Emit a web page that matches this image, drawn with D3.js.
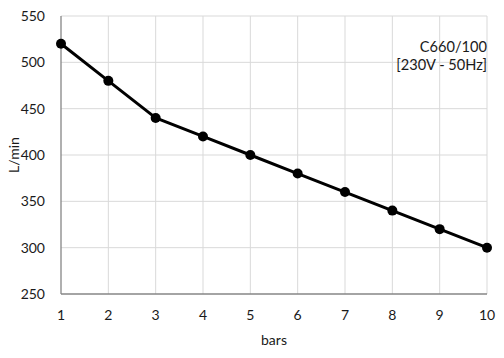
<!DOCTYPE html>
<html>
<head>
<meta charset="utf-8">
<script src="https://cdn.jsdelivr.net/npm/d3@7"></script>
<style>
  body { margin: 0; background: #fff; }
  text { font-family: Lato, "Open Sans", sans-serif; fill: #1a1a1a; }
</style>
</head>
<body>
<svg id="chart" width="504" height="358"></svg>
<script>
const BARS = [1, 2, 3, 4, 5, 6, 7, 8, 9, 10]
const FLOW = [520, 480, 440, 420, 400, 380, 360, 340, 320, 300]
const Y_TICKS = [250, 300, 350, 400, 450, 500, 550]
const LABEL_LINES = ["C660/100", "[230V - 50Hz]"]

const margin = {left: 61, right: 17, top: 16, bottom: 64}
const width = 504, height = 358

const svg = d3.select("#chart")

const x = d3.scaleLinear().domain([1, 10]).range([margin.left, width - margin.right])
const y = d3.scaleLinear().domain([250, 550]).range([height - margin.bottom, margin.top])

// gridlines
svg.append("g").selectAll("line.h")
  .data(Y_TICKS.slice(1))
  .join("line")
  .attr("x1", x(1)).attr("x2", x(10))
  .attr("y1", d => y(d)).attr("y2", d => y(d))
  .attr("stroke", "#d9d9d9").attr("stroke-width", 1)

svg.append("g").selectAll("line.v")
  .data(BARS.slice(1))
  .join("line")
  .attr("x1", d => x(d)).attr("x2", d => x(d))
  .attr("y1", y(250)).attr("y2", y(550))
  .attr("stroke", "#d9d9d9").attr("stroke-width", 1)

// axes lines
svg.append("line")
  .attr("x1", x(1)).attr("x2", x(1)).attr("y1", y(250)).attr("y2", y(550))
  .attr("stroke", "#868686").attr("stroke-width", 1.3)
svg.append("line")
  .attr("x1", x(1)).attr("x2", x(10)).attr("y1", y(250)).attr("y2", y(250))
  .attr("stroke", "#868686").attr("stroke-width", 1.3)

// tick labels
svg.append("g").selectAll("text")
  .data(Y_TICKS)
  .join("text")
  .attr("x", 45).attr("y", d => y(d))
  .attr("dy", "0.35em")
  .attr("text-anchor", "end")
  .style("font-size", "14px")
  .text(d => d)

svg.append("g").selectAll("text")
  .data(BARS)
  .join("text")
  .attr("x", d => x(d)).attr("y", y(250) + 26)
  .attr("text-anchor", "middle")
  .style("font-size", "14px")
  .text(d => d)

// axis titles
svg.append("text")
  .attr("x", x(5.5)).attr("y", 345)
  .attr("text-anchor", "middle")
  .style("font-size", "14px")
  .text("bars")

svg.append("text")
  .attr("transform", `translate(19,${y(400)}) rotate(-90)`)
  .attr("text-anchor", "middle")
  .style("font-size", "14px")
  .text("L/min")

// line
const line = d3.line().x((d, i) => x(BARS[i])).y(d => y(d))
svg.append("path")
  .datum(FLOW)
  .attr("d", line)
  .attr("fill", "none")
  .attr("stroke", "#000")
  .attr("stroke-width", 3)
  .attr("stroke-linejoin", "round")

svg.append("g").selectAll("circle")
  .data(FLOW)
  .join("circle")
  .attr("cx", (d, i) => x(BARS[i]))
  .attr("cy", d => y(d))
  .attr("r", 5)
  .attr("fill", "#000")

// model label
svg.append("g").selectAll("text")
  .data(LABEL_LINES)
  .join("text")
  .attr("x", 487).attr("y", (d, i) => 52 + i * 18)
  .attr("text-anchor", "end")
  .style("font-size", "14.6px")
  .text(d => d)
</script>
</body>
</html>
